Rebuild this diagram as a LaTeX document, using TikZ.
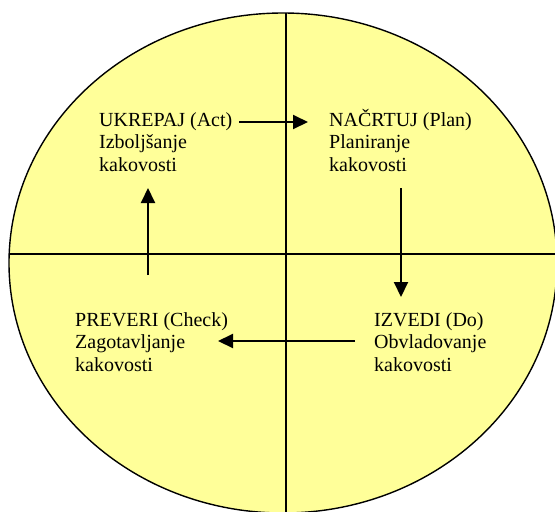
\documentclass[tikz,border=0pt]{standalone}
\usepackage{fontspec}
\setmainfont{Liberation Serif}
\usetikzlibrary{arrows.meta}
\definecolor{pdcafill}{RGB}{255,255,153}

\begin{document}
\begin{tikzpicture}[x=1pt,y=-1pt,
    phase/.style={anchor=base west,inner sep=0pt,align=left,
      font=\fontsize{20}{22.5}\selectfont},
    flow/.style={line width=2pt,-{Triangle[length=15pt,width=14pt]}}]
\useasboundingbox (0,0) rectangle (555,512);
\draw[fill=pdcafill,line width=1.4pt] (283,263) ellipse [x radius=274pt, y radius=250pt];
\draw[line width=1.4pt] (9.2,254)--(556.8,254);
\draw[line width=1.4pt] (286,13)--(286,513);
% base anchor = last line
\node[phase] (act) at (99,171) {UKREPAJ (Act)\\Izboljšanje\\kakovosti};
\node[phase] (plan) at (329,171) {NAČRTUJ (Plan)\\Planiranje\\kakovosti};
\node[phase] (check) at (75,371) {PREVERI (Check)\\Zagotavljanje\\kakovosti};
\node[phase] (do) at (374,371) {IZVEDI (Do)\\Obvladovanje\\kakovosti};
\coordinate (a1) at (239,122); \coordinate (p1) at (308,122);
\coordinate (p2) at (401,188); \coordinate (d2) at (401,297);
\coordinate (d3) at (355,341); \coordinate (c3) at (218,341);
\coordinate (c4) at (148,275); \coordinate (a4) at (148,188);
\draw[flow] (a1)--(p1);
\draw[flow] (p2)--(d2);
\draw[flow] (d3)--(c3);
\draw[flow] (c4)--(a4);
\end{tikzpicture}
\end{document}
